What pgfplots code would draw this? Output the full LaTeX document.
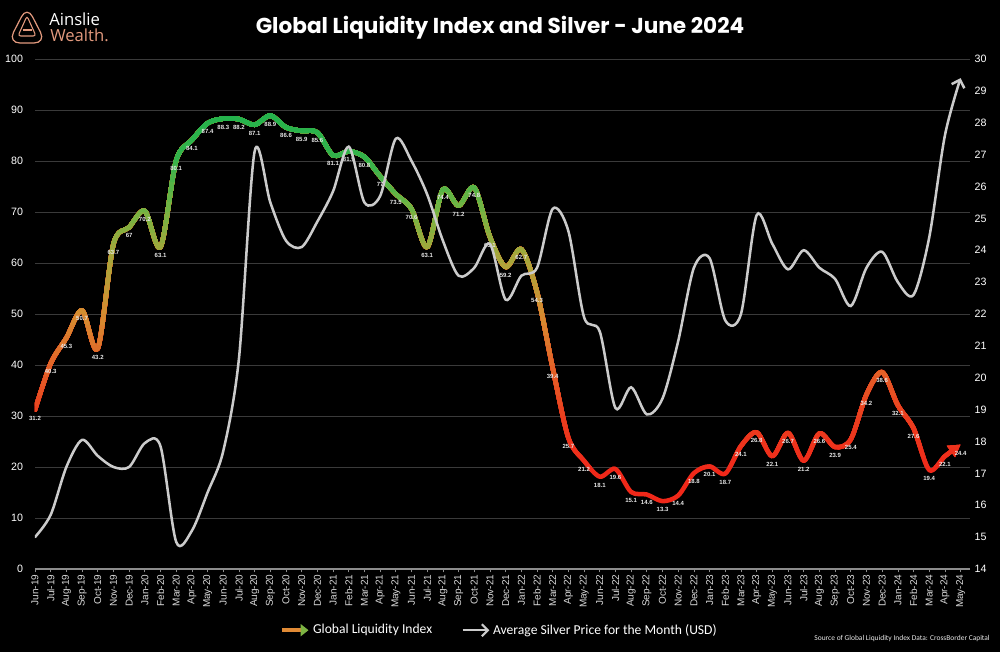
\documentclass[border=0pt]{standalone}
\usepackage{fontspec}
\setmainfont{Liberation Sans}
\newfontfamily\titlefont{Poppins}
\newfontfamily\legfont{Carlito}
\newfontfamily\logofont{Open Sans}
\usepackage{pgfplots}
\pgfplotsset{compat=1.18}
\usepackage{pgfplotstable}
\usetikzlibrary{arrows.meta}

\definecolor{gridgrey}{HTML}{3A3A3A}
\definecolor{axisgrey}{HTML}{8C8C8C}
\definecolor{ticktext}{HTML}{D9D9D9}
\definecolor{silvercol}{HTML}{CBCBCB}
\definecolor{labelcol}{HTML}{E8E8E8}
\definecolor{logocol}{HTML}{E39A7E}
\definecolor{legorange}{HTML}{E08A35}
\definecolor{leggreen}{HTML}{7DB443}

\definecolor{lq0}{RGB}{240,40,25}
\definecolor{lq1}{RGB}{240,40,25}
\definecolor{lq2}{RGB}{240,42,26}
\definecolor{lq3}{RGB}{234,62,30}
\definecolor{lq4}{RGB}{226,100,40}
\definecolor{lq5}{RGB}{214,140,48}
\definecolor{lq6}{RGB}{172,164,58}
\definecolor{lq7}{RGB}{118,180,66}
\definecolor{lq8}{RGB}{52,178,74}
\definecolor{lq9}{RGB}{34,178,76}
\definecolor{lq10}{RGB}{34,178,76}

\foreach \v in {0,2,...,98}{%
  \pgfmathtruncatemacro\seg{floor((\v+1)/10)}%
  \pgfmathtruncatemacro\segn{\seg+1}%
  \pgfmathtruncatemacro\fr{round(((\v+1)-10*\seg)*10)}%
  \xglobal\colorlet{band\v}{lq\segn!\fr!lq\seg}%
}

\pgfplotstableread{
x y
0 31.2
1 40.3
2 45.3
3 50.7
4 43.2
5 63.7
6 67
7 70.2
8 63.1
9 80.1
10 84.1
11 87.4
12 88.3
13 88.2
14 87.1
15 88.9
16 86.6
17 85.9
18 85.6
19 81.1
20 81.9
21 80.8
22 77
23 73.5
24 70.6
25 63.1
26 74.4
27 71.2
28 74.8
29 65.1
30 59.2
31 62.7
32 54.3
33 39.4
34 25.7
35 21.2
36 18.1
37 19.6
38 15.1
39 14.6
40 13.3
41 14.4
42 18.8
43 20.1
44 18.7
45 24.1
46 26.8
47 22.1
48 26.7
49 21.2
50 26.6
51 23.9
52 25.4
53 34.2
54 38.6
55 32.1
56 27.6
57 19.4
58 22.1
59 24.4
}\liqdata

\pgfplotstableread{
x y
0 15.0
1 15.7
2 17.2
3 18.05
4 17.55
5 17.2
6 17.2
7 17.95
8 17.85
9 14.85
10 15.2
11 16.4
12 17.7
13 20.6
14 27.1
15 25.5
16 24.3
17 24.1
18 24.9
19 25.85
20 27.25
21 25.5
22 25.7
23 27.5
24 26.8
25 25.75
26 24.3
27 23.2
28 23.45
29 24.2
30 22.45
31 23.2
32 23.45
33 25.3
34 24.6
35 21.9
36 21.45
37 19.05
38 19.7
39 18.85
40 19.35
41 21.15
42 23.45
43 23.75
44 21.8
45 22.0
46 25.1
47 24.2
48 23.4
49 24.0
50 23.45
51 23.1
52 22.25
53 23.45
54 23.95
55 23.0
56 22.6
57 24.4
58 27.6
59 29.4
}\silverdata

\begin{document}
\begin{tikzpicture}[x=0.75pt,y=0.75pt]
\fill[black] (0,0) rectangle (1000,652);

% logo
\draw[logocol, line width=0.9pt, rounded corners=9pt] (27,646) -- (46,609) -- (8,609) -- cycle;
\draw[logocol, line width=0.8pt, rounded corners=2pt] (27,636) -- (36,616) -- (18,616) -- cycle;
\draw[logocol, line width=0.8pt] (22.5,622) -- (31.5,622);
\node[anchor=base west, text=white, font=\logofont\fontsize{12.5}{13}\selectfont, inner sep=0pt] at (49,626) {Ainslie};
\node[anchor=base west, text=logocol, font=\logofont\fontsize{12.5}{13}\selectfont, inner sep=0pt] at (50,610) {Wealth.};

% title
\node[text=white, font=\titlefont\bfseries\fontsize{16.2}{18}\selectfont] at (500,624) {Global Liquidity Index and Silver - June 2024};

\begin{axis}[
  at={(26.25pt,62.25pt)}, anchor=south west,
  scale only axis, width=701.25pt, height=382.5pt,
  xmin=0, xmax=59.6, ymin=0, ymax=100,
  axis x line*=bottom, axis y line*=left,
  y axis line style={draw=none},
  x axis line style={draw=axisgrey, line width=0.8pt},
  ytick={0,10,...,100},
  ymajorgrids, grid style={draw=gridgrey, line width=0.6pt},
  ytick style={draw=none},
  xtick={0,...,59},
  xticklabels={Jun-19,Jul-19,Aug-19,Sep-19,Oct-19,Nov-19,Dec-19,
    Jan-20,Feb-20,Mar-20,Apr-20,May-20,Jun-20,Jul-20,Aug-20,Sep-20,Oct-20,Nov-20,Dec-20,
    Jan-21,Feb-21,Mar-21,Apr-21,May-21,Jun-21,Jul-21,Aug-21,Sep-21,Oct-21,Nov-21,Dec-21,
    Jan-22,Feb-22,Mar-22,Apr-22,May-22,Jun-22,Jul-22,Aug-22,Sep-22,Oct-22,Nov-22,Dec-22,
    Jan-23,Feb-23,Mar-23,Apr-23,May-23,Jun-23,Jul-23,Aug-23,Sep-23,Oct-23,Nov-23,Dec-23,
    Jan-24,Feb-24,Mar-24,Apr-24,May-24},
  xtick style={draw=axisgrey, line width=0.5pt},
  tick align=outside, major tick length=2.5pt,
  x tick label style={rotate=90, anchor=east, font=\fontsize{7.5}{8}\selectfont, text=ticktext, inner sep=1.5pt},
  y tick label style={font=\fontsize{8}{9}\selectfont, text=white, xshift=-3pt},
  /pgf/number format/assume math mode=true,
]
\pgfplotsinvokeforeach{0,20,22,...,88}{
  \begin{scope}
  \clip (axis cs:-5,#1) rectangle (axis cs:65,110);
  \addplot[band#1, line width=3.4pt, smooth, tension=0.5, line cap=round, line join=round,
    -{Triangle[length=9pt,width=10pt]}] table[x=x,y=y] {\liqdata};
  \end{scope}
}
\addplot[draw=none, mark=none, nodes near coords, point meta=y,
  every node near coord/.append style={font=\bfseries\fontsize{4.5}{5}\selectfont, text=labelcol, anchor=north, yshift=-4pt, inner sep=0.5pt}]
  table[x=x,y=y] {\liqdata};
\end{axis}

\begin{axis}[
  at={(26.25pt,62.25pt)}, anchor=south west,
  scale only axis, width=701.25pt, height=382.5pt,
  xmin=0, xmax=59.6, ymin=14, ymax=30,
  axis y line*=right, axis x line=none,
  y axis line style={draw=none},
  ytick={14,15,...,30}, ytick style={draw=none},
  y tick label style={font=\fontsize{8}{9}\selectfont, text=white},
  /pgf/number format/assume math mode=true,
  legend style={at={(axis description cs:0.497,-0.12)}, anchor=center, draw=none, fill=none,
    text=white, font=\legfont\fontsize{10.2}{11}\selectfont, legend columns=2,
    /tikz/every even column/.append style={column sep=20pt}},
]
\addplot[silvercol, line width=1.9pt, smooth, tension=0.5, line cap=round,
  -{Straight Barb[length=5pt,width=10pt]}, forget plot] table[x=x,y=y] {\silverdata};
\addlegendimage{legend image code/.code={\draw[line width=2.8pt, color=legorange, -{Triangle[length=6pt,width=9pt,color=leggreen]}] (0pt,0pt) -- (20pt,0pt);}}
\addlegendentry{Global Liquidity Index}
\addlegendimage{legend image code/.code={\draw[line width=1.6pt, color=silvercol, -{Straight Barb[length=4.5pt,width=9pt]}] (0pt,0pt) -- (20pt,0pt);}}
\addlegendentry{Average Silver Price for the Month (USD)}
\end{axis}

\node[anchor=east, text=labelcol, font=\legfont\fontsize{5.6}{6}\selectfont, inner sep=0pt] at (990,13) {Source of Global Liquidity Index Data: CrossBorder Capital};
\end{tikzpicture}
\end{document}
